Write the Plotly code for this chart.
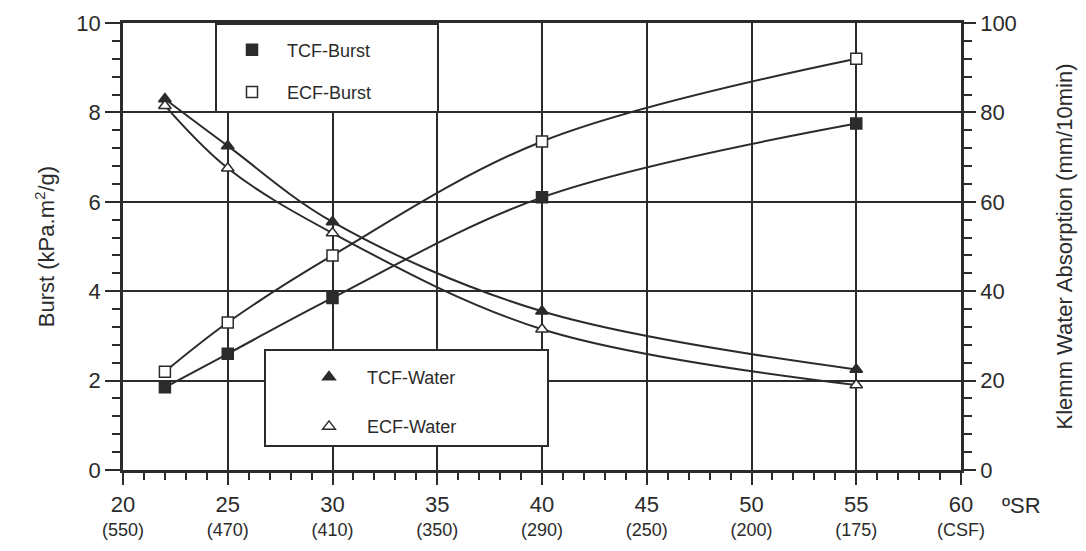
import plotly.graph_objects as go

# ---- data ----
sr = [22, 25, 30, 40, 55]                       # degrees SR of measured pulps
tcf_burst = [1.85, 2.6, 3.85, 6.1, 7.75]        # kPa.m2/g
ecf_burst = [2.2, 3.3, 4.8, 7.35, 9.2]
tcf_water = [83, 72.5, 55.5, 35.5, 22.5]        # mm/10min
ecf_water = [81.5, 67.5, 53, 31.5, 19]

x_tick_vals = [20, 25, 30, 35, 40, 45, 50, 55, 60]
csf_labels = ["(550)", "(470)", "(410)", "(350)", "(290)", "(250)", "(200)", "(175)", "(CSF)"]

INK = "#2b2b2b"
FONT = "Liberation Sans, Arial, Helvetica, sans-serif"
NB = "\u00a0"

fig = go.Figure()

series = [
    ("TCF-Burst", tcf_burst, "square", True, "y", "legend", 12),
    ("ECF-Burst", ecf_burst, "square", False, "y", "legend", 12),
    ("TCF-Water", tcf_water, "triangle-up", True, "y2", "legend2", 17),
    ("ECF-Water", ecf_water, "triangle-up", False, "y2", "legend2", 17),
]

# smooth curves (no legend entry)
for name, vals, sym, filled, ax, lg, pad in series:
    fig.add_trace(go.Scatter(
        x=sr, y=vals, yaxis=ax, mode="lines", showlegend=False, hoverinfo="skip",
        line=dict(color=INK, width=2, shape="spline", smoothing=1.0),
    ))

# markers (legend shows symbol only)
for name, vals, sym, filled, ax, lg, pad in series:
    fig.add_trace(go.Scatter(
        x=sr, y=vals, yaxis=ax, mode="markers", name=name + NB * pad,
        legend=lg, legendgroup=name,
        marker=dict(symbol=sym, size=11,
                    color=INK if filled else "white",
                    line=dict(color=INK, width=1.5)),
    ))

tick_text = [f"<span style='font-size:22px'>{v}</span><br>{c}" for v, c in zip(x_tick_vals, csf_labels)]

# page has an 8px body margin: the figure starts at (8, 8)
OFF = 8
W, H = 1086 - OFF, 551 - OFF
L, R, T, B = 123, 125, 23, 81          # plot box in page pixels
PW, PH = 1086 - L - R, 551 - T - B

fig.update_layout(
    width=W, height=H,
    margin=dict(l=L - OFF, r=R, t=T - OFF, b=B),
    paper_bgcolor="white", plot_bgcolor="white",
    font=dict(family=FONT, color=INK, size=20),
    xaxis=dict(
        range=[20, 60], tickvals=x_tick_vals, ticktext=tick_text, automargin=False,
        showline=True, linecolor=INK, linewidth=2.5, mirror=True,
        ticks="outside", ticklen=12, tickwidth=2, tickcolor=INK, ticklabelstandoff=6,
        showgrid=True, gridcolor=INK, gridwidth=1.6,
        minor=dict(dtick=1, ticks="outside", ticklen=7, tickwidth=1.5, tickcolor=INK, showgrid=False),
        zeroline=False, tickfont=dict(size=18),
    ),
    yaxis=dict(
        range=[0, 10], dtick=2, tickformat="d", automargin=False,
        showline=True, linecolor=INK, linewidth=2.5,
        ticks="outside", ticklen=15, tickwidth=2, tickcolor=INK,
        showgrid=True, gridcolor=INK, gridwidth=1.6,
        minor=dict(dtick=0.4, ticks="outside", ticklen=8, tickwidth=1.5, tickcolor=INK, showgrid=False),
        zeroline=False, tickfont=dict(size=22),
        title=dict(text="Burst (kPa.m<sup>2</sup>/g)", font=dict(size=22), standoff=16),
    ),
    yaxis2=dict(
        range=[0, 100], dtick=20, overlaying="y", side="right", automargin=False,
        showline=True, linecolor=INK, linewidth=2.5,
        ticks="outside", ticklen=12, tickwidth=2, tickcolor=INK,
        showgrid=False,
        minor=dict(dtick=4, ticks="outside", ticklen=8, tickwidth=1.5, tickcolor=INK),
        zeroline=False, tickfont=dict(size=22),
        title=dict(text="Klemm Water Absorption (mm/10min)", font=dict(size=22), standoff=41),
    ),
    legend=dict(
        x=(215 - L) / PW, y=1.0, xanchor="left", yanchor="top",
        bgcolor="white", bordercolor=INK, borderwidth=2,
        font=dict(size=18), tracegroupgap=16, itemwidth=60, indentation=0,
        title=dict(text=NB, font=dict(size=5)),
    ),
    legend2=dict(
        x=(264 - L) / PW, y=(551 - B - 349) / PH, xanchor="left", yanchor="top",
        bgcolor="white", bordercolor=INK, borderwidth=2,
        font=dict(size=18), tracegroupgap=23, itemwidth=66, indentation=25,
        title=dict(text=NB, font=dict(size=6)),
    ),
    showlegend=True,
)

fig.add_annotation(text="ºSR", xref="paper", yref="paper", x=(1000 - L) / PW, y=(551 - B - 505) / PH,
                   xanchor="left", yanchor="middle", showarrow=False, font=dict(size=22))

fig.write_html("out.html")
